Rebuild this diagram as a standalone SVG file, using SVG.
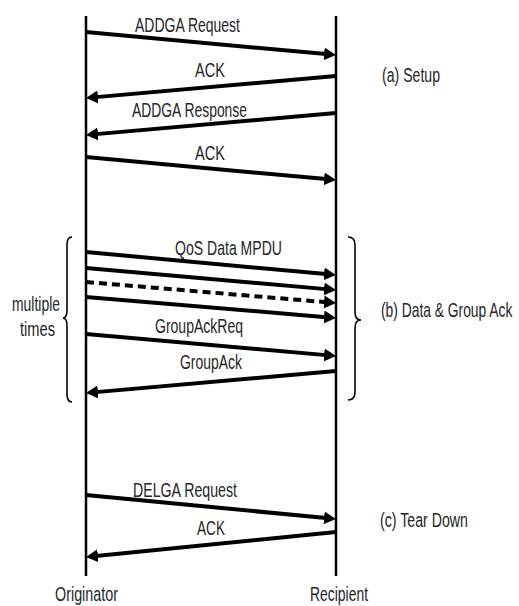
<svg xmlns="http://www.w3.org/2000/svg" width="519" height="606" viewBox="0 0 519 606">
<style>
text{font-family:"Liberation Sans",Arial,sans-serif;font-size:20.5px;fill:#262626}
.life{stroke:#000;stroke-width:2.5;fill:none}
.msg{stroke:#000;stroke-width:4;fill:none;marker-end:url(#ah)}
.dash{stroke-dasharray:8 5}
.brace{stroke:#000;stroke-width:1.6;fill:none}
</style>
<defs>
<marker id="ah" markerUnits="userSpaceOnUse" markerWidth="14" markerHeight="14" refX="2" refY="6.5" orient="auto" viewBox="0 0 14 13">
<path d="M0,0 L12,6.5 L0,13 z" fill="#000"/>
</marker>
</defs>
<rect width="519" height="606" fill="#fff"/>
<g id="originator">
<line class="life" x1="86" y1="16" x2="86" y2="576"/>
<text x="55" y="601" textLength="63" lengthAdjust="spacingAndGlyphs">Originator</text>
</g>
<g id="recipient">
<line class="life" x1="336" y1="16" x2="336" y2="576"/>
<text x="310" y="601" textLength="58" lengthAdjust="spacingAndGlyphs">Recipient</text>
</g>
<g id="connectors">
<line class="msg" x1="86" y1="32" x2="326.04" y2="54.08"/>
<line class="msg" x1="336" y1="76" x2="95.96" y2="97.12"/>
<line class="msg" x1="336" y1="113" x2="95.96" y2="134.12"/>
<line class="msg" x1="86" y1="157" x2="326.04" y2="179.08"/>
<line class="msg" x1="86" y1="252" x2="326.04" y2="274.08"/>
<line class="msg" x1="86" y1="268" x2="326.04" y2="289.12"/>
<line class="msg dash" x1="86" y1="282" x2="326.03" y2="302.16"/>
<line class="msg" x1="86" y1="297" x2="326.03" y2="317.16"/>
<line class="msg" x1="86" y1="334" x2="326.04" y2="355.12"/>
<line class="msg" x1="336" y1="371" x2="95.96" y2="392.12"/>
<line class="msg" x1="86" y1="495" x2="326.05" y2="518.04"/>
<line class="msg" x1="336" y1="532" x2="95.95" y2="556"/>
</g>
<g id="message-labels">
<text x="135" y="32" textLength="105" lengthAdjust="spacingAndGlyphs">ADDGA Request</text>
<text x="195" y="77" textLength="30" lengthAdjust="spacingAndGlyphs">ACK</text>
<text x="132" y="117" textLength="115" lengthAdjust="spacingAndGlyphs">ADDGA Response</text>
<text x="195" y="160" textLength="30" lengthAdjust="spacingAndGlyphs">ACK</text>
<text x="175" y="255" textLength="107" lengthAdjust="spacingAndGlyphs">QoS Data MPDU</text>
<text x="155" y="333" textLength="88" lengthAdjust="spacingAndGlyphs">GroupAckReq</text>
<text x="180" y="369" textLength="62" lengthAdjust="spacingAndGlyphs">GroupAck</text>
<text x="133" y="497" textLength="104" lengthAdjust="spacingAndGlyphs">DELGA Request</text>
<text x="197" y="535" textLength="28" lengthAdjust="spacingAndGlyphs">ACK</text>
</g>
<g id="left-brace">
<path class="brace" d="M72,237 Q67,237 67,245 L67,310 Q67,318 63,318 Q67,318 67,326 L67,394 Q67,402 72,402"/>
<text x="12" y="311" textLength="48" lengthAdjust="spacingAndGlyphs">multiple</text>
<text x="20" y="336" textLength="35" lengthAdjust="spacingAndGlyphs">times</text>
</g>
<g id="right-brace">
<path class="brace" d="M348,237 Q355,237 355,245 L355,312 Q355,320 361,320 Q355,320 355,328 L355,392 Q355,400 348,400"/>
</g>
<g id="phase-labels">
<text x="382" y="82" textLength="58" lengthAdjust="spacingAndGlyphs">(a) Setup</text>
<text transform="translate(381,317) scale(0.675,1)" x="0" y="0">(b) Data &amp; Group Ack</text>
<text x="380" y="527" textLength="88" lengthAdjust="spacingAndGlyphs">(c) Tear Down</text>
</g>
</svg>
